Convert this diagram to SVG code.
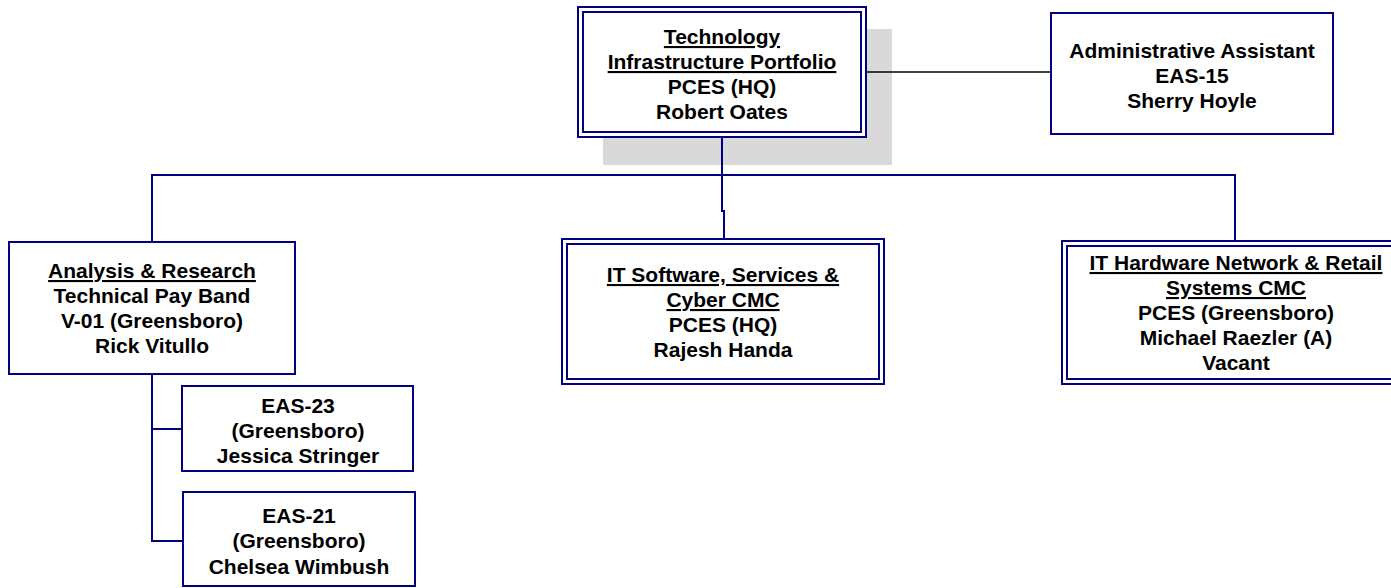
<svg xmlns="http://www.w3.org/2000/svg" width="1391" height="588" viewBox="0 0 1391 588">
<style>
.box{fill:#fff;stroke:#000080;stroke-width:2}
.inner{fill:none;stroke:#000080;stroke-width:2}
.conn{fill:none;stroke:#000080;stroke-width:2}
.blk{fill:none;stroke:#000;stroke-width:1.5}
text{font-family:"Liberation Sans",Arial,sans-serif;font-weight:bold;font-size:21px;fill:#000;text-anchor:middle}
.u{text-decoration:underline}
</style>
<rect width="1391" height="588" fill="#fff"/>
<rect x="603" y="29" width="289" height="136" fill="#d9d9d9"/>
<g id="connectors">
<path class="blk" d="M866 72H1051"/>
<path class="conn" d="M722 137V211H724V239"/>
<path class="conn" d="M152 242V175H1235V241"/>
<path class="conn" d="M152 374V541H183M152 429H182"/>
</g>
<g id="n-top">
<rect class="box" x="578" y="7" width="288" height="130"/>
<rect class="inner" x="583" y="12" width="278" height="120"/>
<text x="722" y="44" class="u">Technology</text>
<text x="722" y="69" class="u">Infrastructure Portfolio</text>
<text x="722" y="94">PCES (HQ)</text>
<text x="722" y="119">Robert Oates</text>
</g>
<g id="n-admin">
<rect class="box" x="1051" y="13" width="282" height="121"/>
<text x="1192" y="58">Administrative Assistant</text>
<text x="1192" y="83">EAS-15</text>
<text x="1192" y="108">Sherry Hoyle</text>
</g>
<g id="n-analysis">
<rect class="box" x="9" y="242" width="286" height="132"/>
<text x="152" y="278" class="u">Analysis &amp; Research</text>
<text x="152" y="303">Technical Pay Band</text>
<text x="152" y="328">V-01 (Greensboro)</text>
<text x="152" y="353">Rick Vitullo</text>
</g>
<g id="n-software">
<rect class="box" x="562" y="239" width="322" height="145"/>
<rect class="inner" x="567" y="244" width="312" height="135"/>
<text x="723" y="282" class="u">IT Software, Services &amp;</text>
<text x="723" y="307" class="u">Cyber CMC</text>
<text x="723" y="332">PCES (HQ)</text>
<text x="723" y="357">Rajesh Handa</text>
</g>
<g id="n-hardware">
<rect class="box" x="1062" y="241" width="348" height="143"/>
<rect class="inner" x="1067" y="246" width="338" height="133"/>
<text x="1236" y="270" class="u">IT Hardware Network &amp; Retail</text>
<text x="1236" y="295" class="u">Systems CMC</text>
<text x="1236" y="320">PCES (Greensboro)</text>
<text x="1236" y="345">Michael Raezler (A)</text>
<text x="1236" y="370">Vacant</text>
</g>
<g id="n-eas23">
<rect class="box" x="182" y="386" width="231" height="85"/>
<text x="298" y="413">EAS-23</text>
<text x="298" y="438">(Greensboro)</text>
<text x="298" y="463">Jessica Stringer</text>
</g>
<g id="n-eas21">
<rect class="box" x="183" y="492" width="232" height="94"/>
<text x="299" y="523">EAS-21</text>
<text x="299" y="548">(Greensboro)</text>
<text x="299" y="574">Chelsea Wimbush</text>
</g>
</svg>
